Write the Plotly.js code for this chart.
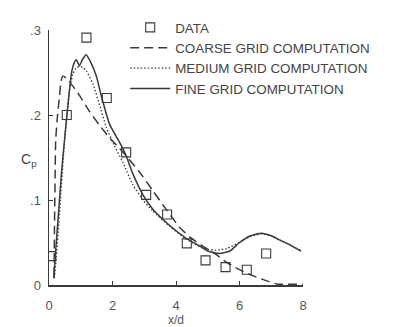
<!DOCTYPE html>
<html><head><meta charset="utf-8">
<script src="https://cdn.plot.ly/plotly-3.0.1.min.js"></script>
<style>html,body{margin:0;padding:0;background:#fff}#chart{width:395px;height:327px}</style>
</head><body><div id="chart"></div>
<script>
// Experimental data
const dataX = [0.07, 0.56, 1.18, 1.82, 2.43, 3.06, 3.72, 4.34, 4.93, 5.56, 6.23, 6.84];
const dataY = [0.034, 0.200, 0.291, 0.220, 0.156, 0.106, 0.083, 0.049, 0.029, 0.021, 0.018, 0.037];

// Coarse grid computation
const coarseX = [0.16, 0.17, 0.19, 0.21, 0.27, 0.33, 0.38, 0.44, 0.52, 0.75, 0.96, 1.28, 1.59, 1.91, 2.17, 2.43, 2.85, 3.27, 3.69, 4.11, 4.45, 4.83, 5.26, 5.58, 6.0, 6.41, 6.93, 7.2, 8.0];
const coarseY = [0.010, 0.060, 0.120, 0.170, 0.200, 0.222, 0.240, 0.246, 0.244, 0.234, 0.223, 0.204, 0.188, 0.173, 0.163, 0.152, 0.133, 0.111, 0.089, 0.068, 0.056, 0.046, 0.036, 0.027, 0.018, 0.011, 0.004, 0.001, 0.001];

// Medium grid computation
const mediumX = [0.17, 0.23, 0.36, 0.49, 0.56, 0.65, 0.75, 0.85, 0.96, 1.06, 1.17, 1.38, 1.59, 1.8, 2.06, 2.32, 2.64, 2.96, 3.27, 3.8, 4.32, 4.74, 5.0, 5.26, 5.6, 6.0, 6.35, 6.69, 7.0, 7.26, 7.6, 7.94];
const mediumY = [0.008, 0.032, 0.100, 0.170, 0.200, 0.230, 0.248, 0.255, 0.257, 0.256, 0.252, 0.237, 0.212, 0.186, 0.164, 0.145, 0.118, 0.100, 0.087, 0.069, 0.054, 0.045, 0.042, 0.041, 0.043, 0.050, 0.057, 0.060, 0.058, 0.053, 0.047, 0.040];

// Fine grid computation
const fineX = [0.15, 0.2, 0.3, 0.4, 0.5, 0.58, 0.66, 0.72, 0.8, 0.86, 0.96, 1.05, 1.17, 1.3, 1.49, 1.65, 1.91, 2.22, 2.43, 2.64, 2.96, 3.27, 3.8, 4.32, 4.74, 5.0, 5.37, 5.7, 6.0, 6.35, 6.69, 7.0, 7.26, 7.6, 7.94];
const fineY = [0.008, 0.035, 0.085, 0.135, 0.175, 0.205, 0.235, 0.252, 0.262, 0.265, 0.258, 0.265, 0.271, 0.263, 0.246, 0.222, 0.189, 0.168, 0.152, 0.131, 0.106, 0.089, 0.070, 0.055, 0.046, 0.040, 0.037, 0.040, 0.050, 0.058, 0.061, 0.058, 0.053, 0.047, 0.040];

const xTickVals = [0, 2, 4, 6, 8];
const xTickText = ['0', '2', '4', '6', '8'];
const yTickVals = [0, 0.1, 0.2, 0.3];
const yTickText = ['0', '.1', '.2', '.3'];
const seriesNames = ['DATA', 'COARSE GRID COMPUTATION', 'MEDIUM GRID COMPUTATION', 'FINE GRID COMPUTATION'];

const ink = '#3a3a3a';
const fontFam = '"Liberation Sans", Arial, sans-serif';

const traces = [
  {x: dataX, y: dataY, name: seriesNames[0], mode: 'markers', type: 'scatter',
   marker: {symbol: 'square-open', size: 9, color: ink, line: {width: 1.1, color: ink}}},
  {x: coarseX, y: coarseY, name: seriesNames[1], mode: 'lines', type: 'scatter',
   line: {color: ink, width: 1.5, dash: '9px,5px', shape: 'spline', smoothing: 0.5}},
  {x: mediumX, y: mediumY, name: seriesNames[2], mode: 'lines', type: 'scatter',
   line: {color: ink, width: 1.3, dash: '1.5px,2px', shape: 'spline', smoothing: 0.5}},
  {x: fineX, y: fineY, name: seriesNames[3], mode: 'lines', type: 'scatter',
   line: {color: ink, width: 1.5, shape: 'spline', smoothing: 0.5}}
];

const layout = {
  width: 395, height: 327,
  margin: {l: 49, r: 92, t: 17, b: 42},
  paper_bgcolor: '#fff', plot_bgcolor: '#fff',
  font: {family: fontFam, size: 12, color: '#444'},
  showlegend: true,
  legend: {x: 0.30, y: 1.07, xanchor: 'left', yanchor: 'top', bgcolor: 'rgba(0,0,0,0)',
           font: {family: fontFam, size: 13.4, color: '#444'}, itemwidth: 40, tracegroupgap: 0},
  xaxis: {range: [0, 8], showgrid: false, zeroline: false, showline: true, linecolor: ink, linewidth: 1.5,
          ticks: 'inside', ticklen: 4, tickcolor: ink, tickvals: xTickVals, ticktext: xTickText,
          ticklabelstandoff: 8, tickfont: {size: 13, color: '#555'},
          title: {text: 'x/d', font: {size: 12, color: '#555'}, standoff: 12}},
  yaxis: {range: [0, 0.3], showgrid: false, zeroline: false, showline: true, linecolor: ink, linewidth: 1.5,
          ticks: 'inside', ticklen: 4, tickcolor: ink, tickvals: yTickVals, ticktext: yTickText,
          ticklabelstandoff: 4, tickfont: {size: 13, color: '#555'}},
  annotations: [{xref: 'paper', yref: 'paper', x: -0.08, y: 0.49, xanchor: 'center', yanchor: 'middle',
                 text: 'C<sub>p</sub>', showarrow: false, font: {size: 14, color: '#444'}}]
};

Plotly.newPlot('chart', traces, layout, {displayModeBar: false, staticPlot: true});
</script></body></html>
